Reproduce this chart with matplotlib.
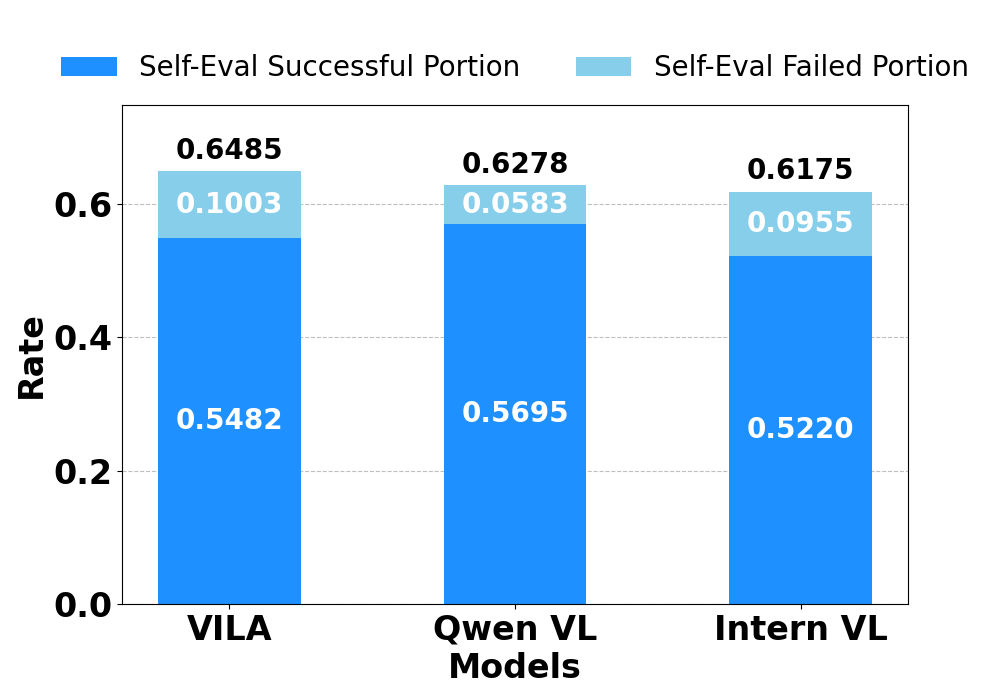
import matplotlib
matplotlib.use("Agg")
import matplotlib.pyplot as plt
import numpy as np

# ============ data ============
models = ["VILA", "Qwen VL", "Intern VL"]
success = [0.5482, 0.5695, 0.5220]
failed = [0.1003, 0.0583, 0.0955]
totals = [0.6485, 0.6278, 0.6175]

C_SUCC = "#1E90FF"
C_FAIL = "#87CEEB"

fig = plt.figure(figsize=(10, 7), dpi=100)
ax = fig.add_axes([0.122, 0.137, 0.786, 0.713])

x = np.arange(len(models))
ax.bar(x, success, width=0.5, color=C_SUCC, label="Self-Eval Successful Portion")
ax.bar(x, failed, width=0.5, bottom=success, color=C_FAIL, label="Self-Eval Failed Portion")

# 数值标注
for i in range(len(models)):
    ax.text(x[i], success[i] / 2, f"{success[i]:.4f}", ha="center", va="center",
            color="white", fontsize=20, fontweight="bold")
    ax.text(x[i], success[i] + failed[i] / 2, f"{failed[i]:.4f}", ha="center", va="center",
            color="white", fontsize=20, fontweight="bold")
    ax.text(x[i], totals[i] + 0.01, f"{totals[i]:.4f}", ha="center", va="bottom",
            color="black", fontsize=20, fontweight="bold")

ax.set_ylim(0, 0.748)
ax.set_yticks([0.0, 0.2, 0.4, 0.6])
ax.set_xticks(x)
ax.set_xticklabels(models)
for lab in ax.get_xticklabels() + ax.get_yticklabels():
    lab.set_fontsize(24)
    lab.set_fontweight("bold")

ax.set_ylabel("Rate", fontsize=24, fontweight="bold")
ax.set_xlabel("Models", fontsize=24, fontweight="bold", labelpad=4)
ax.yaxis.grid(True, linestyle="--", color="gray", alpha=0.5, linewidth=0.8)
ax.set_axisbelow(True)

ax.legend(loc="upper center", bbox_to_anchor=(0.5, 1.152), ncol=2, frameon=False,
          fontsize=20, columnspacing=2.0)

fig.savefig("out.png", dpi=100)
